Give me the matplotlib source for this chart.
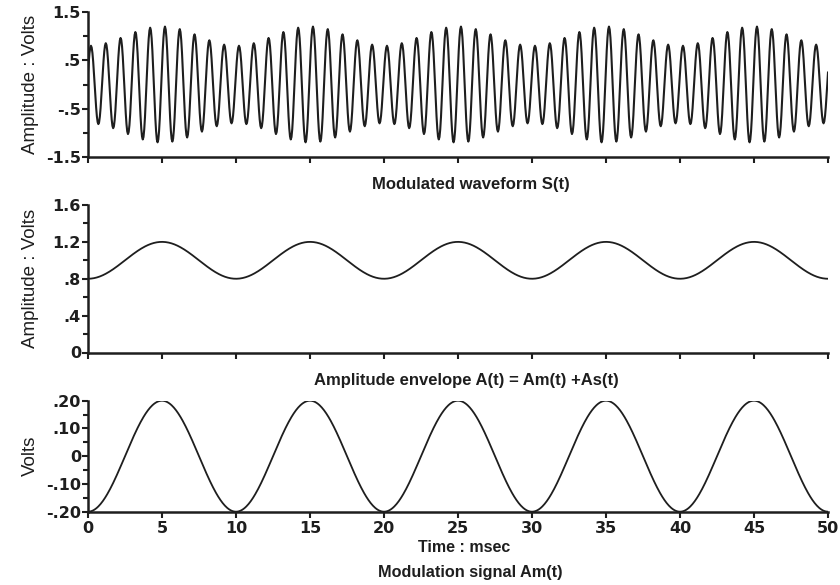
import numpy as np
import matplotlib.pyplot as plt
from matplotlib.ticker import MultipleLocator, FixedLocator

plt.rcParams['font.family'] = ['Liberation Sans', 'DejaVu Sans']

# Signal parameters (times in msec, amplitudes in volts)
t_start, t_end = 0.0, 50.0
sample_step = 0.05
carrier_period = 1.0        # 1 kHz carrier
carrier_peak_offset = 0.2   # first carrier crest
env_dc = 1.0                # As(t)
mod_amp = 0.20              # peak of Am(t)
mod_period = 10.0           # 100 Hz modulation

# Axis ticks and labels
x_ticks = [0, 5, 10, 15, 20, 25, 30, 35, 40, 45, 50]
top_yticks = [1.5, 0.5, -0.5, -1.5]
top_ylabels = ['1.5', '.5', '-.5', '-1.5']
mid_yticks = [1.6, 1.2, 0.8, 0.4, 0.0]
mid_ylabels = ['1.6', '1.2', '.8', '.4', '0']
bot_yticks = [0.20, 0.10, 0.0, -0.10, -0.20]
bot_ylabels = ['.20', '.10', '0', '-.10', '-.20']

t = np.arange(t_start, t_end + sample_step / 2, sample_step)
am = -mod_amp * np.cos(2 * np.pi * t / mod_period)
env = env_dc + am
s = env * np.cos(2 * np.pi * (t - carrier_peak_offset) / carrier_period)

fig = plt.figure(figsize=(8.4, 5.85), dpi=100)
W, H = 840, 585
ink = '#1e1e1e'
tick_font = dict(family='DejaVu Sans', weight='bold', size=11.5)


def make_axes(top_px, bottom_px):
    left, right = 88, 828
    return fig.add_axes([left / W, 1 - bottom_px / H,
                         (right - left) / W, (bottom_px - top_px) / H])


def style(ax, yticks, ylabels, minor):
    ax.spines['top'].set_visible(False)
    ax.spines['right'].set_visible(False)
    for side in ('left', 'bottom'):
        ax.spines[side].set_linewidth(1.8)
        ax.spines[side].set_color(ink)
    ax.set_xlim(t_start, t_end)
    ax.set_ylim(yticks[-1], yticks[0])
    ax.xaxis.set_major_locator(FixedLocator(x_ticks))
    ax.set_yticks(yticks)
    ax.set_yticklabels(ylabels, fontdict=tick_font)
    ax.yaxis.set_minor_locator(MultipleLocator(minor))
    ax.tick_params(axis='both', which='major', direction='out', width=1.5,
                   length=4.5, color=ink, labelcolor=ink)
    ax.tick_params(axis='y', which='minor', direction='out', width=1.5,
                   length=3.5, color=ink)
    ax.tick_params(axis='y', pad=0.5)
    ax.tick_params(axis='x', pad=2)
    ax.patch.set_alpha(0)


ax1 = make_axes(12, 157)
ax1.plot(t, s, color=ink, lw=1.5)
style(ax1, top_yticks, top_ylabels, 0.5)
ax1.set_xticklabels([])
ax1.set_ylabel('Amplitude : Volts', fontsize=13.5, color=ink)

ax2 = make_axes(205, 352.5)
ax2.plot(t, env, color=ink, lw=1.3)
style(ax2, mid_yticks, mid_ylabels, 0.2)
ax2.set_xticklabels([])
ax2.set_ylabel('Amplitude : Volts', fontsize=13.5, color=ink)

ax3 = make_axes(400.7, 511.7)
ax3.plot(t, am, color=ink, lw=1.3)
style(ax3, bot_yticks, bot_ylabels, 0.05)
ax3.set_xticklabels([str(v) for v in x_ticks], fontdict=tick_font)
ax3.set_ylabel('Volts', fontsize=13.5, color=ink)

for ax in (ax1, ax2, ax3):
    ax.yaxis.set_label_coords(-0.066, 0.5)

fig.text(471 / W, 1 - 185 / H, 'Modulated waveform S(t)', ha='center', va='center',
         fontsize=12, fontweight='bold', color=ink)
fig.text(466 / W, 1 - 381 / H, 'Amplitude envelope A(t) = Am(t) +As(t)', ha='center',
         va='center', fontsize=12, fontweight='bold', color=ink)
fig.text(464 / W, 1 - 548 / H, 'Time : msec', ha='center', va='center',
         fontsize=11.5, fontweight='bold', color=ink)
fig.text(470 / W, 1 - 573 / H, 'Modulation signal Am(t)', ha='center', va='center',
         fontsize=11.7, fontweight='bold', color=ink)

fig.savefig('out.png', dpi=100)
